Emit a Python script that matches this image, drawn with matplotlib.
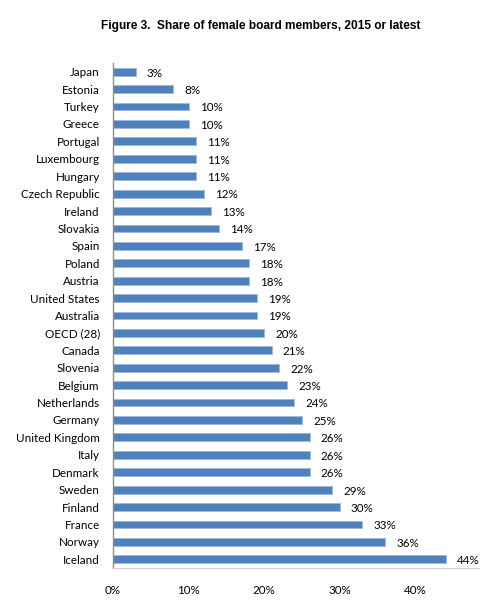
import matplotlib
matplotlib.use("Agg")
import matplotlib.pyplot as plt
from matplotlib.ticker import FuncFormatter

countries = ["Japan", "Estonia", "Turkey", "Greece", "Portugal", "Luxembourg", "Hungary",
             "Czech Republic", "Ireland", "Slovakia", "Spain", "Poland", "Austria",
             "United States", "Australia", "OECD (28)", "Canada", "Slovenia", "Belgium",
             "Netherlands", "Germany", "United Kingdom", "Italy", "Denmark", "Sweden",
             "Finland", "France", "Norway", "Iceland"]
values = [3, 8, 10, 10, 11, 11, 11, 12, 13, 14, 17, 18, 18, 19, 19, 20, 21, 22, 23,
          24, 25, 26, 26, 26, 29, 30, 33, 36, 44]
xticks = [0, 10, 20, 30, 40, 50]

W, H = 481, 611
fig = plt.figure(figsize=(W / 100, H / 100), dpi=100)
fig.patch.set_facecolor("white")

left, right = 113 / W, 491 / W
top_px, bot_px = 63, 568
ax = fig.add_axes([left, 1 - bot_px / H, right - left, (bot_px - top_px) / H])

font = "Lato"
fs = 8.4
n = len(countries)
ypos = list(range(n))
ax.barh(ypos, values, height=0.45, color="#4F81BD", edgecolor="#9DB9DD", linewidth=0.6)
ax.set_ylim(n - 0.5, -0.5)
ax.set_xlim(0, 50)
ax.set_yticks(ypos)
ax.set_yticklabels(countries, fontsize=fs, family=font)
ax.set_xticks(xticks)
ax.xaxis.set_major_formatter(FuncFormatter(lambda v, p: f"{int(v)}%"))
for lab in ax.get_xticklabels():
    lab.set_family(font)
    lab.set_fontsize(fs)
ax.tick_params(axis="both", length=0)
ax.tick_params(axis="y", pad=9.5)
ax.tick_params(axis="x", pad=12)

for s in ["top", "right"]:
    ax.spines[s].set_visible(False)
ax.spines["left"].set_color("#8C8C8C")
ax.spines["left"].set_linewidth(1.0)
ax.spines["bottom"].set_color("#D0D0D0")
ax.spines["bottom"].set_linewidth(0.8)

for y, v in zip(ypos, values):
    ax.annotate(f"{v}%", xy=(v, y), xytext=(8, -1), textcoords="offset points",
                va="center", ha="left", fontsize=fs, family=font)

fig.text(261 / W, 1 - 26 / H, "Figure 3.  Share of female board members, 2015 or latest",
         ha="center", va="center", fontsize=8.6, fontweight="bold", family="Liberation Sans")

fig.savefig("out.png", dpi=100)
